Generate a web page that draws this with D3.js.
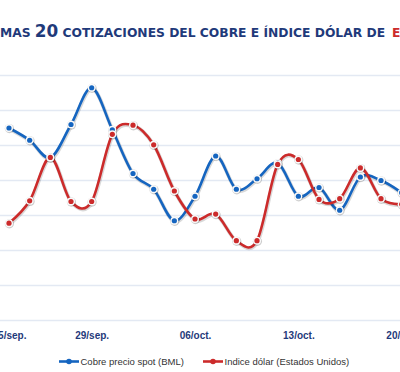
<!DOCTYPE html>
<html>
<head>
<meta charset="utf-8">
<script src="https://cdn.jsdelivr.net/npm/d3@7"></script>
<style>
  html, body { margin: 0; padding: 0; background: #fff; overflow: hidden; }
  svg { display: block; }
</style>
</head>
<body>
<svg id="chart"></svg>
<script>
// ultimas 20 cotizaciones (the picture is a crop of a wider chart)
const dates = ["25/sep.", "26/sep.", "27/sep.", "28/sep.", "29/sep.", "30/sep.", "01/oct.", "02/oct.", "03/oct.", "06/oct.",
  "07/oct.", "08/oct.", "09/oct.", "10/oct.", "13/oct.", "14/oct.", "15/oct.", "16/oct.", "17/oct.", "20/oct."];
const tickDates = ["25/sep.", "29/sep.", "06/oct.", "13/oct.", "20/oct."];

// US$/lb
const cobre = [3.050, 3.043, 3.033, 3.052, 3.073, 3.049, 3.024, 3.015, 2.997, 3.011,
  3.034, 3.015, 3.021, 3.030, 3.011, 3.016, 3.003, 3.022, 3.020, 3.013];
// indice
const dolar = [85.39, 85.71, 86.33, 85.70, 85.70, 86.66, 86.79, 86.51, 85.85, 85.45,
  85.52, 85.14, 85.14, 86.23, 86.30, 85.73, 85.74, 86.18, 85.74, 85.66];

const seriesNames = ["Cobre precio spot (BML)", "Indice dólar (Estados Unidos)"];
const cobreDomain = [2.94, 3.08];
const dolarDomain = [84.0, 87.5];

const W = 400, H = 372;
const NAVY = "#1f3a7a", BLUE = "#1565c0", RED = "#cc2b2b";

const svg = d3.select("#chart").attr("width", W).attr("height", H);

const x = d3.scalePoint().domain(dates).range([9, 401.7]);
const yCu = d3.scaleLinear().domain(cobreDomain).range([320.5, 75.5]);
const yUsd = d3.scaleLinear().domain(dolarDomain).range([320.5, 75.5]);

// gridlines
svg.append("g")
  .selectAll("line")
  .data(yCu.ticks(7))
  .enter()
  .append("line")
  .attr("x1", 0).attr("x2", W)
  .attr("y1", d => yCu(d)).attr("y2", d => yCu(d))
  .attr("stroke", "#e3e9f3")
  .attr("stroke-width", 1.3);

// title, "ÚLTI" falls off the left edge
const TF = "DejaVu Sans";
function measure(txt, size) {
  const t = svg.append("text").attr("font-family", TF).attr("font-weight", "bold")
    .attr("font-size", size).text(txt);
  const w = t.node().getComputedTextLength();
  t.remove();
  return w;
}
const base = measure("MAS ", 12) + measure("20", 12 * 1.37) +
  measure(" COTIZACIONES DEL COBRE E ÍNDICE DÓLAR DE", 12);
const fs = 12 * 377 / base;
const title = svg.append("text")
  .attr("x", -measure("ÚLTI", fs))
  .attr("y", 36.5)
  .attr("font-family", TF)
  .attr("font-weight", "bold")
  .attr("font-size", fs)
  .attr("fill", NAVY);
title.append("tspan").text("ÚLTIMAS ");
title.append("tspan").attr("font-size", fs * 1.37).text("20");
title.append("tspan").text(" COTIZACIONES DEL COBRE E ÍNDICE DÓLAR DE");
title.append("tspan").attr("fill", RED).attr("dx", 7).text("EE.UU.");

// x axis
const xAxis = d3.axisBottom(x).tickValues(tickDates).tickSize(0).tickPadding(11);
const gx = svg.append("g")
  .attr("transform", "translate(0,320.5)")
  .call(xAxis);
gx.select(".domain").remove();
gx.selectAll("text")
  .attr("font-family", "Liberation Sans")
  .attr("font-weight", "bold")
  .attr("font-size", 10)
  .attr("fill", NAVY);

const curve = d3.curveCardinal.tension(0);
const series = [
  { name: seriesNames[0], values: cobre, y: yCu, color: BLUE },
  { name: seriesNames[1], values: dolar, y: yUsd, color: RED }
];

const plot = svg.append("g");

series.forEach(s => {
  const line = d3.line()
    .x((d, i) => x(dates[i]))
    .y(d => s.y(d))
    .curve(curve);

  // soft shadow under the line
  plot.append("path")
    .attr("d", line(s.values))
    .attr("transform", "translate(0.6,1)")
    .attr("fill", "none")
    .attr("stroke", "#000")
    .attr("stroke-opacity", 0.15)
    .attr("stroke-width", 3.8);

  plot.append("path")
    .attr("d", line(s.values))
    .attr("fill", "none")
    .attr("stroke", s.color)
    .attr("stroke-width", 2.6);
});

series.forEach(s => {
  const g = plot.append("g");
  const pts = g.selectAll("g")
    .data(s.values)
    .enter()
    .append("g")
    .attr("transform", (d, i) => `translate(${x(dates[i])},${s.y(d)})`);
  pts.append("circle").attr("r", 4.6).attr("cx", 0.4).attr("cy", 0.6).attr("fill", "#000").attr("fill-opacity", 0.2);
  pts.append("circle").attr("r", 4).attr("fill", "#fafafa");
  pts.append("circle").attr("r", 2.6).attr("fill", s.color);
});

// legend
const legend = svg.append("g").attr("transform", "translate(0,361.5)");
const legX = [59, 203];
series.forEach((s, i) => {
  const g = legend.append("g").attr("transform", `translate(${legX[i]},0)`);
  g.append("line").attr("x1", 0).attr("x2", 20).attr("y1", 0).attr("y2", 0)
    .attr("stroke", s.color).attr("stroke-width", 2.6);
  g.append("circle").attr("cx", 10).attr("r", 2.8).attr("fill", s.color);
  g.append("text")
    .attr("x", 21.5)
    .attr("dy", "0.35em")
    .attr("font-family", "Liberation Sans")
    .attr("font-size", 9.5)
    .attr("fill", "#333")
    .text(s.name);
});
</script>
</body>
</html>
